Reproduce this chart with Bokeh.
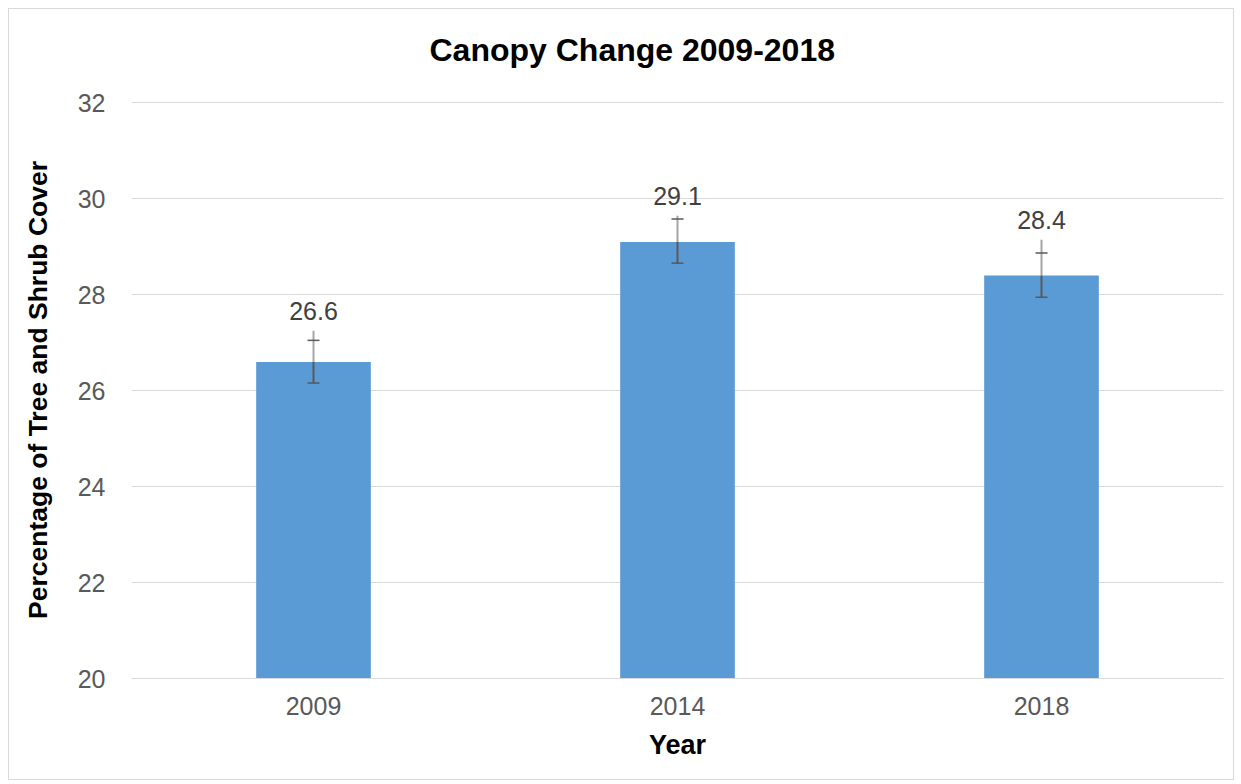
from bokeh.plotting import figure
from bokeh.models import ColumnDataSource, FactorRange, Range1d, FixedTicker, Title
from bokeh.embed import file_html
from bokeh.resources import INLINE

years = ["2009", "2014", "2018"]
cover = [26.6, 29.1, 28.4]
err_minus = [0.44, 0.44, 0.45]
err_plus = [0.45, 0.48, 0.47]
whisker_top = [0.65, 0.55, 0.75]
labels = ["26.6", "29.1", "28.4"]
y_ticks = [20, 22, 24, 26, 28, 30, 32]
title_text = "Canopy Change 2009-2018"

src = ColumnDataSource(dict(
    x=years, top=cover,
    lo=[v - e for v, e in zip(cover, err_minus)],
    hi=[v + e for v, e in zip(cover, err_plus)],
    ext=[v + e for v, e in zip(cover, whisker_top)],
    label=labels,
))

FONT = "Liberation Sans"

p = figure(width=1226, height=772, x_range=FactorRange(*years), y_range=Range1d(20, 32.03),
           output_backend="svg", toolbar_location=None,
           min_border_left=122, min_border_right=12, min_border_top=92, min_border_bottom=103)
p.outline_line_color = None
p.border_fill_color = "white"
p.background_fill_color = "white"
p.styles = {"border": "1px solid #d9d9d9", "margin": "8px"}

spacer = Title(text=" ", standoff=0, text_font=FONT, text_font_size="24px", text_color="white")
p.add_layout(spacer, "above")
t = Title(text=title_text, align="left", offset=298, standoff=10,
          text_font=FONT, text_font_size="32px", text_font_style="bold", text_color="black")
p.add_layout(t, "above")

p.vbar(x="x", top="top", bottom=20, width=0.315, source=src, fill_color="#5b9bd5", line_color=None)

# error bars
p.segment(x0="x", y0="top", x1="x", y1="ext", source=src, line_color="#a6a6a6", line_width=2)
p.segment(x0="x", y0="lo", x1="x", y1="top", source=src, line_color="#595959", line_width=2)
p.scatter(x="x", y="hi", source=src, marker="dash", size=12, line_color="#595959", line_width=1.5)
p.scatter(x="x", y="lo", source=src, marker="dash", size=12, line_color="#595959", line_width=1.5)

p.text(x="x", y="ext", text="label", source=src, text_align="center", text_baseline="bottom",
       y_offset=-11, text_font_size="25px", text_color="#404040", text_font={"value": FONT})

p.yaxis.ticker = FixedTicker(ticks=y_ticks)
p.yaxis.axis_line_color = None
p.yaxis.major_tick_line_color = None
p.yaxis.minor_tick_line_color = None
p.yaxis.major_label_text_font = FONT
p.yaxis.major_label_text_font_size = "25px"
p.yaxis.major_label_text_color = "#595959"
p.yaxis.major_label_standoff = 20
p.yaxis.axis_label = "Percentage of Tree and Shrub Cover"
p.yaxis.axis_label_text_font = FONT
p.yaxis.axis_label_text_font_size = "26.5px"
p.yaxis.axis_label_text_font_style = "bold"
p.yaxis.axis_label_text_color = "black"
p.yaxis.axis_label_standoff = 22

p.xaxis.axis_line_color = "#d9d9d9"
p.xaxis.axis_line_width = 1
p.xaxis.major_tick_line_color = None
p.xaxis.minor_tick_line_color = None
p.xaxis.major_label_text_font = FONT
p.xaxis.major_label_text_font_size = "25px"
p.xaxis.major_label_text_color = "#595959"
p.xaxis.major_label_standoff = 12
p.xaxis.axis_label = "Year"
p.xaxis.axis_label_text_font = FONT
p.xaxis.axis_label_text_font_size = "27px"
p.xaxis.axis_label_text_font_style = "bold"
p.xaxis.axis_label_text_color = "black"
p.xaxis.axis_label_standoff = 12

p.xgrid.grid_line_color = None
p.ygrid.grid_line_color = "#d9d9d9"
p.ygrid.grid_line_width = 1

open("out.html", "w").write(file_html(p, INLINE))
